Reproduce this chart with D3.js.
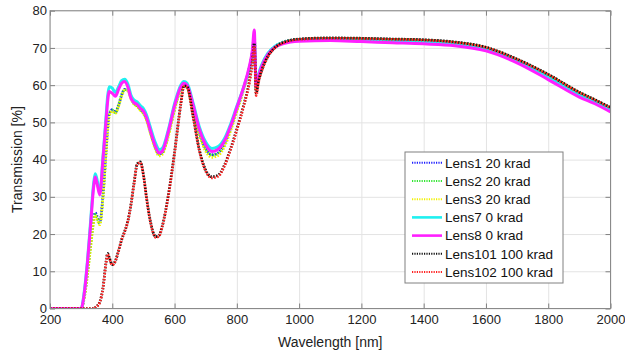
<!DOCTYPE html>
<html>
<head>
<meta charset="utf-8">
<script src="https://cdn.jsdelivr.net/npm/d3@7"></script>
<style>
  body { margin: 0; background: #fff; }
  svg { font-family: "Liberation Sans", Arial, sans-serif; }
  .grid line { stroke: #e3e3e3; }
  .grid path { display: none; }
  .axis path { display: none; }
  .axis line { stroke: #808080; }
  .axis text { font-size: 13px; fill: #222; }
</style>
</head>
<body>
<svg width="625" height="353"></svg>
<script>
// wavelengths (nm) shared by all the series
const wavelengths = [200, 300, 310, 320, 330, 340, 345, 350, 360, 370,
  380, 385, 390, 400, 410, 420, 430, 440, 450, 460,
  470, 480, 490, 500, 510, 520, 540, 550, 560, 580,
  600, 620, 630, 640, 660, 680, 700, 720, 740, 760,
  780, 800, 820, 840, 850, 856, 862, 870, 880, 900,
  925, 950, 1000, 1100, 1200, 1300, 1400, 1500, 1600, 1700,
  1800, 1900, 1950, 2000];

const lens1 = [0, 0, 3, 9.5, 17, 24, 25.8, 25, 23.2, 30.3,
  42.3, 48.3, 52.2, 53.4, 52.7, 54.6, 57.4, 58.9, 58.8, 56.6,
  55.1, 54.5, 53.5, 52.6, 50.9, 48.1, 42.9, 41.5, 41.8, 46.8,
  53.7, 59.1, 60.3, 59.7, 53.8, 47.1, 42.9, 41.3, 41.8, 44.1,
  48.3, 53.4, 58.6, 64.6, 69, 73.4, 59, 62.3, 64.8, 68.3,
  70.5, 71.6, 72.3, 72.6, 72.5, 72.3, 72.1, 71.5, 70.1, 66.9,
  62.8, 58, 56, 53.9];
const lens2 = [0, 0, 3, 9, 16.5, 23.5, 25.3, 24.5, 22.8, 30,
  42, 48, 52, 53.3, 52.6, 54.5, 57.3, 58.8, 58.7, 56.5,
  55, 54.4, 53.4, 52.5, 50.8, 48, 42.8, 41.4, 41.7, 46.7,
  53.6, 59, 60.2, 59.6, 53.7, 47, 42.8, 41.2, 41.7, 44,
  48.2, 53.3, 58.5, 64.5, 69, 73.5, 59, 62.3, 64.8, 68.3,
  70.5, 71.6, 72.3, 72.6, 72.5, 72.3, 72.1, 71.5, 70.1, 66.9,
  62.8, 58, 56, 53.9];
const lens3 = [0, 0, 2.8, 8.7, 16, 23, 25, 24.2, 22.5, 29.5,
  41.5, 47.5, 51.5, 53, 52.4, 54.3, 57, 58.6, 58.5, 56.3,
  54.8, 54.2, 53.2, 52.3, 50.5, 47.7, 42.4, 41, 41.3, 46.2,
  53.2, 58.7, 60, 59.3, 53.2, 46.4, 42.2, 40.6, 41.1, 43.4,
  47.7, 52.9, 58.2, 64.2, 68.7, 73, 59, 62.2, 64.7, 68.2,
  70.4, 71.5, 72.2, 72.5, 72.4, 72.2, 72, 71.4, 70, 66.8,
  62.7, 57.9, 55.9, 53.8];
const lens7 = [0, 0, 4.5, 12.5, 23, 33.5, 36.2, 35, 31.2, 40.5,
  51.5, 57, 59.6, 59.2, 58, 59.5, 61.2, 61.6, 60.3, 57.3,
  56, 55.5, 54.5, 53.7, 52, 49.3, 44.2, 42.7, 43, 48,
  55, 60, 61, 60.5, 55, 48.7, 44.7, 43, 43.5, 45.6,
  49.5, 54.3, 59, 64.5, 68.5, 72.5, 60, 63, 65.5, 68.6,
  70.6, 71.5, 72.1, 72.3, 72.1, 71.8, 71.6, 71.1, 69.8, 66.6,
  62.3, 57.5, 55.6, 53.6];
const lens8 = [0, 0, 4, 12, 22, 32.5, 35.3, 34, 30.5, 40,
  50.5, 55.5, 58.3, 57.8, 57, 58.8, 60.5, 61, 59.5, 56.5,
  55.3, 54.8, 53.8, 53, 51.3, 48.5, 43.3, 41.8, 42.2, 47.5,
  54.5, 59.5, 60.5, 60, 54.5, 48, 44, 42.2, 42.8, 45,
  49, 54, 59, 65, 69.5, 74.8, 59.5, 62.5, 65, 68.3,
  70.3, 71.2, 71.8, 72, 71.7, 71.4, 71.1, 70.6, 69.2, 66,
  61.5, 56.8, 55, 52.8];
const lens101 = [0, 0, 0, 0, 0, 0, 0.2, 0.6, 1.8, 5.5,
  12.5, 14.8, 13.8, 11.8, 12.8, 15.5, 18.5, 20.8, 23.5, 28,
  33.8, 38.8, 39.4, 36, 29.8, 24.5, 19.3, 19.6, 22, 30.5,
  42, 55, 59.8, 59.6, 51.5, 42.5, 37.2, 35.4, 35.8, 38.5,
  43, 48.2, 54, 61, 66.5, 71.3, 57.8, 61.2, 64, 67.8,
  70.3, 71.5, 72.4, 72.7, 72.6, 72.4, 72.2, 71.6, 70.2, 67,
  62.9, 58.1, 56.1, 54];
const lens102 = [0, 0, 0, 0, 0, 0, 0.2, 0.5, 1.7, 5.3,
  12.3, 14.6, 13.6, 11.7, 12.7, 15.4, 18.4, 20.7, 23.4, 27.8,
  33.6, 38.6, 39.2, 35.8, 29.6, 24.3, 19.1, 19.4, 21.8, 30.2,
  41.7, 54.7, 59.6, 59.4, 51.2, 42.2, 36.9, 35.1, 35.5, 38.2,
  42.7, 47.9, 53.7, 60.6, 66, 70.5, 57.2, 60.9, 63.8, 67.6,
  70.2, 71.4, 72.3, 72.6, 72.5, 72.3, 72.1, 71.5, 70.1, 66.9,
  62.8, 58, 56, 53.9];

const seriesNames = ['Lens1 20 krad', 'Lens2 20 krad', 'Lens3 20 krad', 'Lens7 0 krad',
  'Lens8 0 krad', 'Lens101 100 krad', 'Lens102 100 krad'];
const seriesValues = [lens1, lens2, lens3, lens7, lens8, lens101, lens102];
const seriesColors = ['#1f1fff', '#33e633', '#f2f200', '#1ff0f0', '#ff1fff', '#111111', '#ff2020'];
const seriesDotted = [true, true, true, false, false, true, true];

const xTicks = d3.range(200, 2001, 200);
const yTicks = d3.range(0, 81, 10);

const svg = d3.select('svg');
const margin = { left: 50, top: 10.7, right: 14.5, bottom: 44.5 };
const width = 625 - margin.left - margin.right;
const height = 353 - margin.top - margin.bottom;

const x = d3.scaleLinear().domain([200, 2000]).range([0, width]);
const y = d3.scaleLinear().domain([0, 80]).range([height, 0]);

const g = svg.append('g').attr('transform', `translate(${margin.left},${margin.top})`);

g.append('rect').attr('width', width).attr('height', height).attr('fill', '#fff');

// grid
g.append('g')
    .attr('class', 'grid')
    .attr('transform', `translate(0,${height})`)
    .call(d3.axisBottom(x).tickValues(xTicks).tickSize(-height).tickFormat(''));
g.append('g')
    .attr('class', 'grid')
    .call(d3.axisLeft(y).tickValues(yTicks).tickSize(-width).tickFormat(''));

// curves
const line = d3.line()
    .x((d, i) => x(wavelengths[i]))
    .y(d => y(d))
    .curve(d3.curveMonotoneX);

g.append('clipPath').attr('id', 'plotclip')
    .append('rect').attr('y', -3).attr('width', width).attr('height', height + 3);

g.append('g')
    .attr('clip-path', 'url(#plotclip)')
    .selectAll('path')
    .data(seriesValues)
    .enter()
    .append('path')
    .attr('d', d => line(d))
    .attr('fill', 'none')
    .attr('stroke', (d, i) => seriesColors[i])
    .attr('stroke-width', (d, i) => seriesDotted[i] ? 2.7 : 3)
    .attr('stroke-dasharray', (d, i) => seriesDotted[i] ? '1.5,1.5' : null);

// axes with inside ticks on all four sides
g.append('g')
    .attr('class', 'axis')
    .attr('transform', `translate(0,${height})`)
    .call(d3.axisBottom(x).tickValues(xTicks).tickFormat(d3.format('d'))
        .tickSizeInner(-5).tickSizeOuter(0).tickPadding(6));
g.append('g')
    .attr('class', 'axis')
    .call(d3.axisLeft(y).tickValues(yTicks).tickFormat(d3.format('d'))
        .tickSizeInner(-5).tickSizeOuter(0).tickPadding(3));
g.append('g')
    .attr('class', 'axis')
    .call(d3.axisTop(x).tickValues(xTicks).tickSizeInner(-5).tickSizeOuter(0).tickFormat(''));
g.append('g')
    .attr('class', 'axis')
    .attr('transform', `translate(${width},0)`)
    .call(d3.axisRight(y).tickValues(yTicks).tickSizeInner(-5).tickSizeOuter(0).tickFormat(''));

g.append('rect')
    .attr('width', width)
    .attr('height', height)
    .attr('fill', 'none')
    .attr('stroke', '#8a8a8a')
    .attr('stroke-width', 1);

// axis titles
svg.append('text')
    .attr('x', margin.left + width / 2)
    .attr('y', 347)
    .attr('text-anchor', 'middle')
    .style('font-size', '14px')
    .style('fill', '#222')
    .text('Wavelength [nm]');

svg.append('text')
    .attr('transform', `translate(22,${margin.top + height / 2}) rotate(-90)`)
    .attr('text-anchor', 'middle')
    .style('font-size', '14px')
    .style('fill', '#222')
    .text('Transmission [%]');

// legend
const legend = svg.append('g').attr('transform', 'translate(405,152)');
legend.append('rect')
    .attr('width', 158)
    .attr('height', 131)
    .attr('fill', '#fff')
    .attr('stroke', '#808080');

const items = legend.selectAll('g.item')
    .data(seriesNames)
    .enter()
    .append('g')
    .attr('class', 'item')
    .attr('transform', (d, i) => `translate(0,${10.8 + i * 18.2})`);

items.append('line')
    .attr('x1', 7).attr('x2', 37)
    .attr('stroke', (d, i) => seriesColors[i])
    .attr('stroke-width', (d, i) => seriesDotted[i] ? 2 : 2.6)
    .attr('stroke-dasharray', (d, i) => seriesDotted[i] ? '1.2,1.2' : null);

items.append('text')
    .attr('x', 40)
    .attr('dy', '0.35em')
    .style('font-size', '13.5px')
    .style('fill', '#111')
    .text(d => d);
</script>
</body>
</html>
